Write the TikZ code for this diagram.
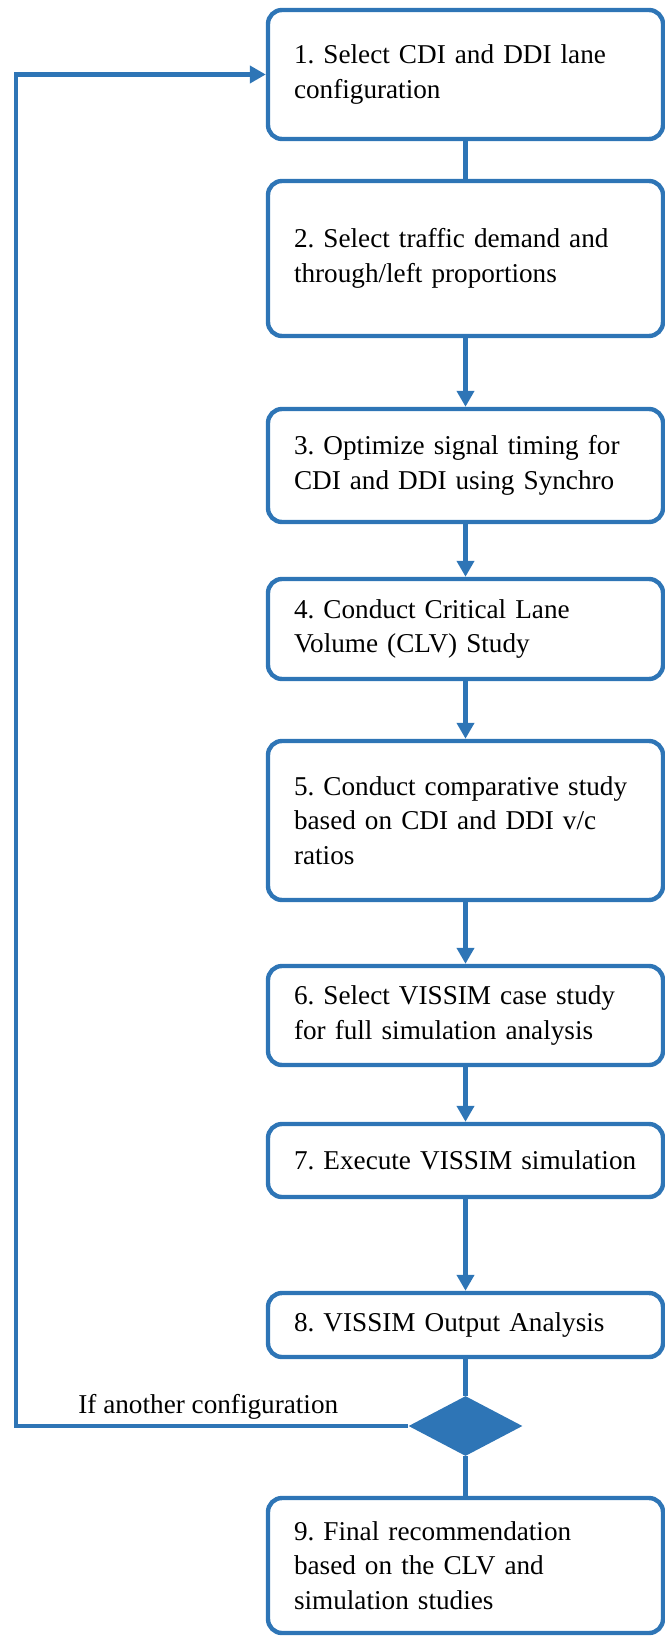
\documentclass[tikz,border=0pt]{standalone}
\usepackage{fontspec}
\setmainfont{Liberation Serif}
\frenchspacing
\usetikzlibrary{arrows.meta,shapes.geometric}
\definecolor{flowblue}{HTML}{2E75B6}
\begin{document}
\begin{tikzpicture}[x=0.5pt,y=-0.5pt,
        stepbox/.style={rectangle,rounded corners=7pt,draw=flowblue,line width=2.2pt,
          text width=171.5pt,inner xsep=13pt,inner ysep=0pt,align=left,
          minimum width=197.5pt,font=\fontsize{13.6}{17.3}\selectfont},
        decision/.style={diamond,fill=flowblue,draw=none,inner sep=0pt,
          aspect=1.9,minimum width=57pt,minimum height=30pt},
        link/.style={draw=flowblue,line width=2.2pt},
        every edge/.style={link,-{Triangle[length=8pt,width=8.5pt]}}]
      \useasboundingbox (0,0) rectangle (664,1636);
      \node (1) at (465.5,74.5) [stepbox,minimum height=64.5pt] {1. Select CDI and DDI lane\\configuration\\[0.4em]};
      \node (2) at (465.5,258.5) [stepbox,minimum height=77.5pt] {2. Select traffic demand and\\through/left proportions};
      \node (3) at (465.5,465.5) [stepbox,minimum height=56.5pt] {3. Optimize signal timing for\\CDI and DDI using Synchro};
      \node (4) at (465.5,629) [stepbox,minimum height=50pt] {4. Conduct Critical Lane\\Volume (CLV) Study};
      \node (5) at (465.5,820.5) [stepbox,minimum height=79.5pt] {5. Conduct comparative study\\based on CDI and DDI v/c\\ratios};
      \node (6) at (465.5,1015.5) [stepbox,minimum height=49.5pt] {6. Select VISSIM case study\\for full simulation analysis};
      \node (7) at (465.5,1160.5) [stepbox,minimum height=36.5pt] {7. Execute VISSIM simulation};
      \node (8) at (465.5,1325) [stepbox,minimum height=32pt] {8. VISSIM Output Analysis};
      \node (d) at (465.5,1426) [decision] {};
      \node (9) at (465.5,1565.5) [stepbox,minimum height=67.5pt] {9. Final recommendation\\based on the CLV and\\simulation studies};
      \coordinate (fb) at (16,1426);
      \node (lbl) at (78,1407) [anchor=west,inner sep=0pt,
        font=\fontsize{13.6}{17.3}\selectfont] {If another configuration};
      \draw (1) edge[-] (2);
      \draw (2) edge (3);
      \draw (3) edge (4);
      \draw (4) edge (5);
      \draw (5) edge (6);
      \draw (6) edge (7);
      \draw (7) edge (8);
      \draw (8) edge[-] (d);
      \draw (d) edge[-] (9);
      \draw[link,-{Triangle[length=8pt,width=8.5pt]}] (d) -- (fb) |- (1);
\end{tikzpicture}
\end{document}
